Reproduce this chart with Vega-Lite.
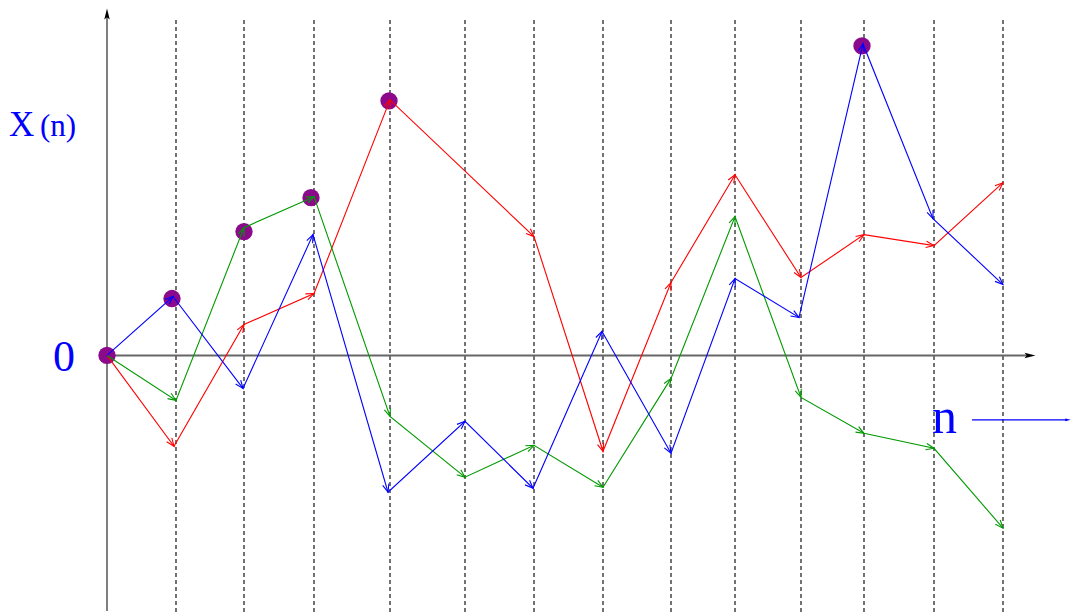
{
  "$schema": "https://vega.github.io/schema/vega-lite/v6.json",
  "width": 1072,
  "height": 616,
  "autosize": {"type": "fit", "contains": "padding"},
  "padding": 0,
  "background": "white",
  "config": {"view": {"stroke": null}, "axis": {"disable": true}},
  "datasets": {
    "walks": [
      {"walk": "A", "step": 0, "t": 0, "v": 0},
      {"walk": "A", "step": 1, "t": 6.7, "v": -9.1},
      {"walk": "A", "step": 2, "t": 13.7, "v": 3.1},
      {"walk": "A", "step": 3, "t": 20.7, "v": 6.2},
      {"walk": "A", "step": 4, "t": 28.3, "v": 25.6},
      {"walk": "A", "step": 6, "t": 42.7, "v": 11.9},
      {"walk": "A", "step": 7, "t": 49.6, "v": -9.6},
      {"walk": "A", "step": 8, "t": 56.4, "v": 7.3},
      {"walk": "A", "step": 9, "t": 62.8, "v": 18.1},
      {"walk": "A", "step": 10, "t": 69.4, "v": 7.8},
      {"walk": "A", "step": 11, "t": 75.7, "v": 12.1},
      {"walk": "A", "step": 12, "t": 82.7, "v": 11.0},
      {"walk": "A", "step": 13, "t": 89.6, "v": 17.3},
      {"walk": "B", "step": 0, "t": 0, "v": 0},
      {"walk": "B", "step": 1, "t": 6.9, "v": -4.5},
      {"walk": "B", "step": 2, "t": 13.7, "v": 12.8},
      {"walk": "B", "step": 3, "t": 20.7, "v": 15.9},
      {"walk": "B", "step": 4, "t": 28.3, "v": -6.1},
      {"walk": "B", "step": 5, "t": 35.8, "v": -12.2},
      {"walk": "B", "step": 6, "t": 42.7, "v": -9.0},
      {"walk": "B", "step": 7, "t": 49.6, "v": -13.2},
      {"walk": "B", "step": 8, "t": 56.4, "v": -2.3},
      {"walk": "B", "step": 9, "t": 62.8, "v": 13.9},
      {"walk": "B", "step": 10, "t": 69.4, "v": -4.2},
      {"walk": "B", "step": 11, "t": 75.7, "v": -7.8},
      {"walk": "B", "step": 12, "t": 82.7, "v": -9.3},
      {"walk": "B", "step": 13, "t": 89.6, "v": -17.3},
      {"walk": "C", "step": 0, "t": 0, "v": 0},
      {"walk": "C", "step": 1, "t": 6.6, "v": 5.9},
      {"walk": "C", "step": 2, "t": 13.6, "v": -3.3},
      {"walk": "C", "step": 3, "t": 20.6, "v": 12.1},
      {"walk": "C", "step": 4, "t": 28.1, "v": -13.7},
      {"walk": "C", "step": 5, "t": 35.8, "v": -6.6},
      {"walk": "C", "step": 6, "t": 42.6, "v": -13.3},
      {"walk": "C", "step": 7, "t": 49.5, "v": 2.4},
      {"walk": "C", "step": 8, "t": 56.4, "v": -9.8},
      {"walk": "C", "step": 9, "t": 62.8, "v": 7.7},
      {"walk": "C", "step": 10, "t": 69.2, "v": 3.8},
      {"walk": "C", "step": 11, "t": 75.6, "v": 31.2},
      {"walk": "C", "step": 12, "t": 82.6, "v": 13.7},
      {"walk": "C", "step": 13, "t": 89.6, "v": 7.1}
    ],
    "records": [
      {"t": 0, "v": 0},
      {"t": 6.5, "v": 5.7},
      {"t": 13.7, "v": 12.4},
      {"t": 20.4, "v": 15.8},
      {"t": 28.2, "v": 25.5},
      {"t": 75.5, "v": 31.0}
    ],
    "steps": [
      {"t": 6.9}, {"t": 13.7}, {"t": 20.7}, {"t": 28.3}, {"t": 35.8}, {"t": 42.7}, {"t": 49.6},
      {"t": 56.4}, {"t": 62.8}, {"t": 69.4}, {"t": 75.7}, {"t": 82.7}, {"t": 89.6}
    ]
  },
  "layer": [
    {
      "data": {"name": "steps"},
      "mark": {"type": "rule", "color": "black", "strokeWidth": 1.1, "strokeDash": [4, 3]},
      "encoding": {
        "x": {"field": "t", "type": "quantitative", "scale": {"domain": [-10.7, 96.5], "nice": false, "zero": false}, "axis": null},
        "y": {"datum": 33.6, "type": "quantitative", "scale": {"domain": [-26, 35.6], "nice": false, "zero": false}, "axis": null},
        "y2": {"datum": -26}
      }
    },
    {
      "data": {"values": [{}]},
      "mark": {"type": "rule", "color": "#555555", "strokeWidth": 1.5},
      "encoding": {
        "x": {"datum": 0, "type": "quantitative"},
        "y": {"datum": -25.6, "type": "quantitative"},
        "y2": {"datum": 34.0}
      }
    },
    {
      "data": {"values": [{}]},
      "mark": {"type": "rule", "color": "#666666", "strokeWidth": 2},
      "encoding": {
        "x": {"datum": 0, "type": "quantitative"},
        "x2": {"datum": 92.0},
        "y": {"datum": 0, "type": "quantitative"}
      }
    },
    {
      "data": {"values": [{}]},
      "mark": {"type": "point", "shape": "M-0.5,1L0,-1L0.5,1L0,0.6Z", "filled": true, "color": "black", "opacity": 1, "size": 120},
      "encoding": {
        "x": {"datum": 0, "type": "quantitative"},
        "y": {"datum": 34.2, "type": "quantitative"}
      }
    },
    {
      "data": {"values": [{}]},
      "mark": {"type": "point", "shape": "M-1,-0.5L1,0L-1,0.5L-0.6,0Z", "filled": true, "color": "black", "opacity": 1, "size": 120},
      "encoding": {
        "x": {"datum": 92.3, "type": "quantitative"},
        "y": {"datum": 0, "type": "quantitative"}
      }
    },
    {
      "data": {"name": "records"},
      "mark": {"type": "circle", "color": "#8b0a8b", "opacity": 1, "size": 300},
      "encoding": {
        "x": {"field": "t", "type": "quantitative"},
        "y": {"field": "v", "type": "quantitative"}
      }
    },
    {
      "data": {"name": "walks"},
      "mark": {"type": "line", "strokeWidth": 1.1},
      "encoding": {
        "x": {"field": "t", "type": "quantitative"},
        "y": {"field": "v", "type": "quantitative"},
        "color": {"field": "walk", "type": "nominal", "scale": {"domain": ["A", "B", "C"], "range": ["#ff0000", "#009900", "#0000ff"]}, "legend": null},
        "order": {"field": "step", "type": "quantitative"}
      }
    },
    {
      "data": {"name": "walks"},
      "transform": [
        {"window": [{"op": "lag", "field": "t", "as": "pt"}, {"op": "lag", "field": "v", "as": "pv"}], "groupby": ["walk"], "sort": [{"field": "step"}]},
        {"filter": "datum.pt != null"},
        {"calculate": "atan2(datum.pv - datum.v, datum.t - datum.pt) * 180 / PI", "as": "ang"}
      ],
      "mark": {"type": "point", "shape": "M-1,-0.4L0,0L-1,0.4", "filled": false, "strokeWidth": 1.1, "opacity": 1, "size": 256},
      "encoding": {
        "x": {"field": "t", "type": "quantitative"},
        "y": {"field": "v", "type": "quantitative"},
        "color": {"field": "walk", "type": "nominal", "legend": null},
        "angle": {"field": "ang", "type": "quantitative", "scale": null}
      }
    },
    {
      "data": {"values": [{}]},
      "mark": {"type": "text", "text": "X", "font": "Liberation Serif", "fontSize": 35, "color": "#0000ff", "align": "left", "baseline": "alphabetic"},
      "encoding": {
        "x": {"datum": -9.8, "type": "quantitative"},
        "y": {"datum": 22.0, "type": "quantitative"}
      }
    },
    {
      "data": {"values": [{}]},
      "mark": {"type": "text", "text": "(n)", "font": "Liberation Serif", "fontSize": 31, "color": "#0000ff", "align": "left", "baseline": "alphabetic"},
      "encoding": {
        "x": {"datum": -6.7, "type": "quantitative"},
        "y": {"datum": 22.0, "type": "quantitative"}
      }
    },
    {
      "data": {"values": [{}]},
      "mark": {"type": "text", "text": "0", "font": "Liberation Serif", "fontSize": 44, "color": "#0000ff", "align": "center", "baseline": "alphabetic"},
      "encoding": {
        "x": {"datum": -4.3, "type": "quantitative"},
        "y": {"datum": -1.6, "type": "quantitative"}
      }
    },
    {
      "data": {"values": [{}]},
      "mark": {"type": "text", "text": "n", "font": "Liberation Serif", "fontSize": 50, "color": "#0000ff", "align": "left", "baseline": "alphabetic"},
      "encoding": {
        "x": {"datum": 82.5, "type": "quantitative"},
        "y": {"datum": -7.8, "type": "quantitative"}
      }
    },
    {
      "data": {"values": [{}]},
      "mark": {"type": "rule", "color": "#0000ff", "strokeWidth": 1.2},
      "encoding": {
        "x": {"datum": 86.5, "type": "quantitative"},
        "x2": {"datum": 96.0},
        "y": {"datum": -6.45, "type": "quantitative"}
      }
    },
    {
      "data": {"values": [{}]},
      "mark": {"type": "point", "shape": "M-1,-0.5L1,0L-1,0.5Z", "filled": true, "color": "#0000ff", "opacity": 1, "size": 30},
      "encoding": {
        "x": {"datum": 96.1, "type": "quantitative"},
        "y": {"datum": -6.45, "type": "quantitative"}
      }
    }
  ]
}
